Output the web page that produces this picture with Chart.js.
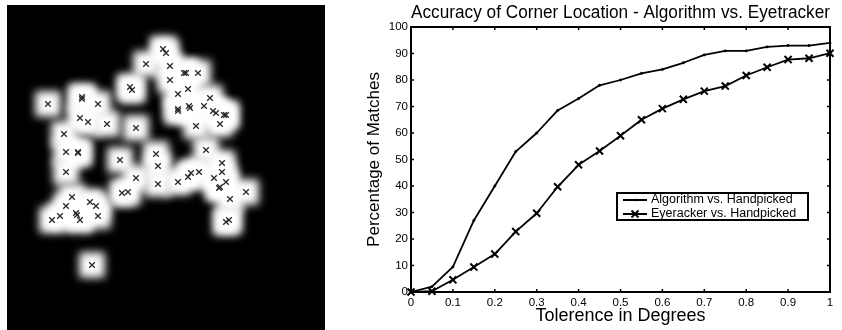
<!DOCTYPE html>
<html>
<head>
<meta charset="utf-8">
<script src="https://cdn.jsdelivr.net/npm/chart.js@4.4.1/dist/chart.umd.min.js"></script>
<style>
    body { margin: 0; background: #fff; width: 842px; height: 330px; position: relative; overflow: hidden; }
    #corners { position: absolute; left: 7px; top: 5px; background: #000; }
    #accuracy { position: absolute; left: 340px; top: 0; }
</style>
</head>
<body>
<canvas id="corners" width="318" height="325"></canvas>
<canvas id="accuracy" width="502" height="330"></canvas>
<script>
// image coordinates of the picked corners (pixels of the 318x325 frame)
const cornerX = [156, 159, 139, 163, 177, 179, 191, 163, 123, 125, 181, 171, 75, 75, 41, 91, 203, 171, 171, 182, 183, 197, 206, 209, 217, 219,
    73, 81, 100, 129, 189, 213, 57, 199, 59, 71, 71, 149, 113, 151, 215, 59, 192, 184, 181, 129, 215, 207, 171, 219, 151, 213, 212,
    115, 121, 239, 65, 83, 89, 59, 223, 69, 70, 73, 53, 45, 91, 219, 222, 85];
const cornerY = [44, 48, 59, 61, 68, 68, 68, 75, 82, 85, 84, 89, 92, 94, 99, 99, 93, 104, 106, 101, 103, 101, 106, 108, 110, 110,
    113, 117, 119, 123, 121, 119, 129, 145, 147, 147, 148, 149, 155, 161, 158, 167, 167, 168, 172, 173, 167, 173, 177, 177, 179, 182, 183,
    188, 187, 187, 192, 197, 201, 201, 194, 208, 210, 215, 211, 215, 211, 217, 215, 260];

const tolerance = [0, 0.05, 0.1, 0.15, 0.2, 0.25, 0.3, 0.35, 0.4, 0.45, 0.5, 0.55, 0.6, 0.65, 0.7, 0.75, 0.8, 0.85, 0.9, 0.95, 1];
const algorithmMatches = [0, 2, 9.5, 27, 40, 53, 60, 68.5, 73, 78, 80, 82.5, 84, 86.5, 89.5, 91, 91, 92.5, 93, 93, 94];
const eyetrackerMatches = [0, 0.3, 4.6, 9.4, 14.3, 22.8, 29.7, 39.7, 48, 53.2, 59, 65, 69.2, 72.7, 75.8, 77.7, 81.7, 84.8, 87.7, 88.2, 90.1];
const seriesLabels = ['Algorithm vs. Handpicked', 'Eyeracker vs. Handpicked'];

Chart.defaults.font.family = '"Liberation Sans", Arial, sans-serif';
Chart.defaults.color = '#000';

const cornerPoints = cornerX.map((x, i) => ({ x: x, y: cornerY[i] }));

const blurBlobs = {
    id: 'blurBlobs',
    beforeDatasetDraw(chart, args) {
        if (args.index == 0) {
            chart.ctx.save();
            chart.ctx.filter = 'blur(4px)';
        }
    },
    afterDatasetDraw(chart, args) {
        if (args.index == 0) chart.ctx.restore();
    }
};

new Chart(document.getElementById('corners'), {
    type: 'scatter',
    data: {
        datasets: [{
            data: cornerPoints,
            order: 2,
            pointStyle: 'rect',
            pointRadius: 18,
            backgroundColor: '#fff',
            borderWidth: 0,
            clip: false,
        }, {
            data: cornerPoints,
            order: 1,
            pointStyle: 'crossRot',
            pointRadius: 4,
            borderColor: '#2a2a2a',
            borderWidth: 1.3,
            clip: false,
        }]
    },
    options: {
        responsive: false,
        animation: false,
        devicePixelRatio: 1,
        layout: { padding: 0, autoPadding: false },
        scales: {
            x: { type: 'linear', min: 0, max: 318, display: false },
            y: { type: 'linear', min: 0, max: 325, reverse: true, display: false }
        },
        plugins: { legend: { display: false }, tooltip: { enabled: false } }
    },
    plugins: [blurBlobs]
});

function line(ctx, x1, y1, x2, y2) {
    ctx.beginPath();
    ctx.moveTo(x1, y1);
    ctx.lineTo(x2, y2);
    ctx.stroke();
}

const frameAndLegend = {
    id: 'frameAndLegend',
    afterDraw(chart) {
        const ctx = chart.ctx;
        const a = chart.chartArea;
        const x = chart.scales.x;
        const y = chart.scales.y;
        ctx.save();
        ctx.strokeStyle = '#000';
        ctx.lineWidth = 1.5;
        x.ticks.forEach((t, i) => {
            let px = x.getPixelForTick(i);
            line(ctx, px, a.bottom, px, a.bottom - 3);
            line(ctx, px, a.top, px, a.top + 3);
        });
        y.ticks.forEach((t, i) => {
            let py = y.getPixelForTick(i);
            line(ctx, a.left, py, a.left + 3, py);
            line(ctx, a.right, py, a.right - 3, py);
        });
        ctx.lineWidth = 2;
        ctx.strokeRect(a.left, a.top, a.right - a.left, a.bottom - a.top);

        // legend box
        let lx = a.left + 206, ly = a.top + 166, lw = 191, lh = 27;
        ctx.fillStyle = '#fff';
        ctx.fillRect(lx, ly, lw, lh);
        ctx.strokeRect(lx, ly, lw, lh);
        ctx.font = '12.5px "Liberation Sans", Arial, sans-serif';
        ctx.textBaseline = 'middle';
        ctx.fillStyle = '#000';
        chart.data.datasets.forEach((ds, i) => {
            let ry = ly + 7 + i * 14;
            ctx.lineWidth = 2;
            line(ctx, lx + 6, ry, lx + 30, ry);
            if (ds.pointStyle == 'crossRot') {
                line(ctx, lx + 14.5, ry - 3.5, lx + 21.5, ry + 3.5);
                line(ctx, lx + 14.5, ry + 3.5, lx + 21.5, ry - 3.5);
            } else {
                ctx.beginPath();
                ctx.arc(lx + 18, ry, 1.2, 0, Math.PI * 2);
                ctx.fill();
            }
            ctx.fillText(ds.label, lx + 34, ry);
        });
        ctx.restore();
    }
};

new Chart(document.getElementById('accuracy'), {
    type: 'line',
    data: {
        datasets: [{
            label: seriesLabels[0],
            data: tolerance.map((t, i) => ({ x: t, y: algorithmMatches[i] })),
            borderColor: '#000',
            backgroundColor: '#000',
            borderWidth: 1.8,
            pointStyle: 'circle',
            pointRadius: 1.2,
            pointBorderWidth: 0.5,
            borderJoinStyle: 'round',
            tension: 0,
            clip: false,
        }, {
            label: seriesLabels[1],
            data: tolerance.map((t, i) => ({ x: t, y: eyetrackerMatches[i] })),
            borderColor: '#000',
            backgroundColor: '#000',
            borderWidth: 1.8,
            pointStyle: 'crossRot',
            pointRadius: 5,
            pointBorderWidth: 2,
            borderJoinStyle: 'round',
            tension: 0,
            clip: false,
        }]
    },
    options: {
        responsive: false,
        animation: false,
        devicePixelRatio: 1,
        layout: { padding: { right: 12 }, autoPadding: false },
        scales: {
            x: {
                type: 'linear',
                min: 0,
                max: 1,
                grid: { display: false, drawTicks: false },
                border: { display: false },
                ticks: {
                    stepSize: 0.1, padding: 4, maxRotation: 0, font: { size: 11.5 },
                    callback: (v) => String(+v.toFixed(1))
                },
                title: { display: true, text: 'Tolerence in Degrees', font: { size: 18 }, padding: { top: 0, bottom: 3 } },
                afterFit: (scale) => { scale.height = 38; }
            },
            y: {
                type: 'linear',
                min: 0,
                max: 100,
                grid: { display: false, drawTicks: false },
                border: { display: false },
                ticks: { stepSize: 10, padding: 3, font: { size: 11.5 } },
                title: { display: true, text: 'Percentage of Matches', font: { size: 17 }, padding: { top: 24, bottom: 0 } },
                afterFit: (scale) => { scale.width = 71; }
            }
        },
        plugins: {
            legend: { display: false },
            tooltip: { enabled: false },
            title: {
                display: true,
                fullSize: false,
                text: 'Accuracy of Corner Location - Algorithm vs. Eyetracker',
                font: { size: 17.5, weight: 'normal' },
                padding: { top: 3, bottom: 3 }
            }
        }
    },
    plugins: [frameAndLegend]
});
</script>
</body>
</html>
